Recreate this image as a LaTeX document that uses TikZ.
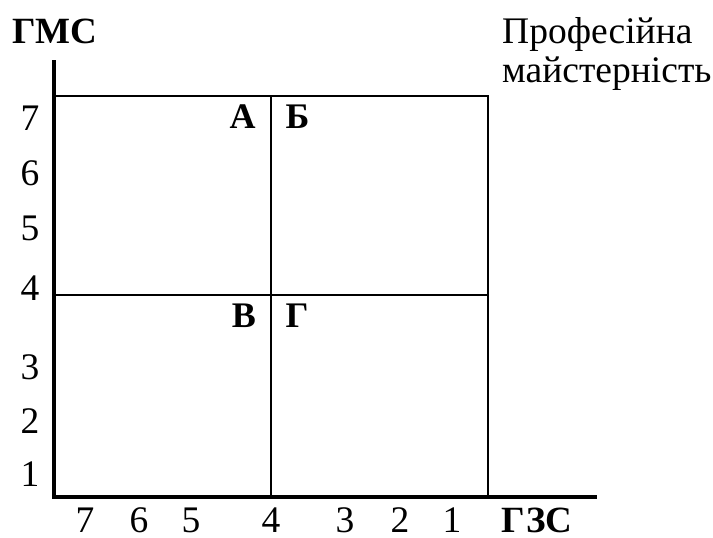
\documentclass[tikz,border=0pt]{standalone}
\usepackage{fontspec}
\setmainfont{LiberationSerif}[Extension=.ttf, UprightFont=*-Regular, BoldFont=*-Bold, ItalicFont=*-Italic, BoldItalicFont=*-BoldItalic]
\begin{document}
\begin{tikzpicture}[x=1pt,y=-1pt, inner sep=0pt,
  lbl/.style={font=\fontsize{37.5}{42}\selectfont, anchor=base},
  bl/.style={font=\fontsize{37}{42}\selectfont\bfseries, anchor=base},
  qd/.style={font=\fontsize{36}{40}\selectfont\bfseries, anchor=base},
  axisline/.style={line width=4.5pt},
  gridline/.style={line width=2pt}]
\useasboundingbox (0,0) rectangle (713,538);
% corners
\coordinate (ytop) at (54,60);
\coordinate (o) at (54,497);
\coordinate (xend) at (597,497);
\coordinate (tl) at (54,96);
\coordinate (tm) at (271,96);
\coordinate (tr) at (488,96);
\coordinate (ml) at (54,295);
\coordinate (mr) at (488,295);
\coordinate (bm) at (271,497);
\coordinate (br) at (488,497);
% grid
\draw[gridline] (tl) -- (tr) -- (br);
\draw[gridline] (ml) -- (mr);
\draw[gridline] (tm) -- (bm);
% axes
\draw[axisline] (ytop) -- ([yshift=-2.25pt]o);
\draw[axisline] ([xshift=-2.25pt]o) -- (xend);
% axis titles
\node[bl] (gms) at (55,43) {ГМС};
\node[bl] (gzs) at (537,532) {ГЗС};
\node[lbl, anchor=base west] (prof1) at (502,43) {Професійна};
\node[lbl, anchor=base west] (prof2) at (502,82) {майстерність};
% y labels
\node[lbl] (y7) at (30,130) {7};
\node[lbl] (y6) at (30,185) {6};
\node[lbl] (y5) at (30,240) {5};
\node[lbl] (y4) at (30,300) {4};
\node[lbl] (y3) at (30,379) {3};
\node[lbl] (y2) at (30,433) {2};
\node[lbl] (y1) at (30,486) {1};
% x labels
\node[lbl] (x7) at (85,532) {7};
\node[lbl] (x6) at (139,532) {6};
\node[lbl] (x5) at (191,532) {5};
\node[lbl] (x4) at (271,532) {4};
\node[lbl] (x3) at (345,532) {3};
\node[lbl] (x2) at (400,532) {2};
\node[lbl] (x1) at (452,532) {1};
% quadrant letters
\node[qd] (qa) at (242.5,128) {А};
\node[qd] (qb) at (297.5,128) {Б};
\node[qd] (qv) at (244,327) {В};
\node[qd] (qg) at (297,327) {Г};
\end{tikzpicture}
\end{document}
